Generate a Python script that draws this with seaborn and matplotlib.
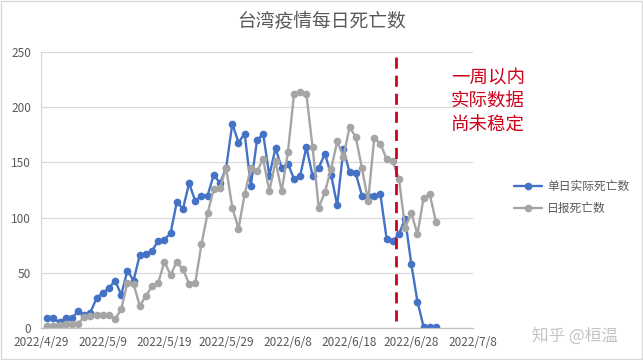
import matplotlib
matplotlib.use("Agg")
import matplotlib.pyplot as plt
from matplotlib.patches import Rectangle
from matplotlib.lines import Line2D
import seaborn as sns
import pandas as pd

# ---- data ----
start_date = "2022-04-30"
actual_deaths = [9, 9, 5, 9, 9, 15, 12, 14, 27, 32, 36, 43, 30, 52, 43, 66,
                 67, 70, 79, 80, 86, 114, 108, 131, 115, 120, 120, 139, 131, 145,
                 185, 168, 176, 129, 170, 176, 138, 163, 145, 149, 135, 138, 164, 138,
                 145, 158, 139, 111, 162, 141, 140, 120, 120, 120, 121, 81, 79, 85,
                 99, 58, 24, 1, 1, 1]
reported_deaths = [2, 2, 3, 4, 4, 4, 10, 11, 12, 12, 12, 8, 17, 41, 40, 20,
                   29, 38, 41, 60, 48, 60, 53, 40, 41, 76, 104, 126, 127, 145,
                   109, 90, 121, 145, 142, 153, 124, 151, 124, 159, 212, 214, 212, 164,
                   109, 123, 144, 169, 155, 182, 173, 145, 115, 172, 167, 153, 151, 135,
                   91, 104, 85, 118, 121, 96]
dates = pd.date_range(start_date, periods=len(actual_deaths))
tick_dates = pd.to_datetime(["2022-04-29", "2022-05-09", "2022-05-19", "2022-05-29",
                             "2022-06-08", "2022-06-18", "2022-06-28", "2022-07-08"])
tick_labels = [f"{d.year}/{d.month}/{d.day}" for d in tick_dates]
y_ticks = [0, 50, 100, 150, 200, 250]
cutoff_date = pd.Timestamp("2022-06-25 12:00")

title = "台湾疫情每日死亡数"
label_actual = "单日实际死亡数"
label_reported = "日报死亡数"
note = "一周以内\n实际数据\n尚未稳定"
watermark = "知乎 @桓温"

df = pd.DataFrame({"date": dates, label_actual: actual_deaths, label_reported: reported_deaths})
long = df.melt(id_vars="date", var_name="series", value_name="deaths")

sns.set_theme(style="white")
plt.rcParams['font.family'] = ['Noto Sans CJK SC', 'DejaVu Sans']

fig = plt.figure(figsize=(6.43, 3.6), dpi=100)
ax = fig.add_axes([41 / 643, 1 - 328 / 360, (473 - 41) / 643, (328 - 52) / 360])

palette = {label_actual: "#4472C4", label_reported: "#A5A5A5"}
sns.lineplot(data=long, x="date", y="deaths", hue="series", palette=palette,
             marker="o", markersize=5.5, markeredgewidth=0, linewidth=1.7,
             ax=ax, legend=False)

ax.set_xlim(tick_dates[0], tick_dates[-1])
ax.set_ylim(0, 250)
ax.set_xticks(tick_dates)
ax.set_xticklabels(tick_labels)
ax.set_yticks(y_ticks)
ax.set_xlabel("")
ax.set_ylabel("")
ax.tick_params(axis="both", labelsize=8.5, colors="#595959", length=0)
ax.tick_params(axis="x", pad=6)
ax.tick_params(axis="y", pad=7)
ax.grid(axis="y", color="#D9D9D9", linewidth=0.9)
ax.set_axisbelow(True)
for s in ["top", "right"]:
    ax.spines[s].set_visible(False)
ax.spines["left"].set_color("#D9D9D9")
ax.spines["left"].set_linewidth(0.9)
ax.spines["bottom"].set_color("#BFBFBF")
ax.spines["bottom"].set_linewidth(0.9)

# cutoff dashed line
ax.axvline(cutoff_date, ymin=0.025, ymax=0.99, color="#D0021B", linewidth=2,
           linestyle=(0, (4, 2.5)), zorder=5)

# title
fig.text(0.5, 1 - 22 / 360, title, ha="center", va="center", fontsize=13.5,
         color="#595959")

# note
fig.text(451 / 643, 1 - 102 / 360, note, ha="left", va="center", fontsize=13.3,
         color="#D0021B", linespacing=1.4)

# legend
handles = [Line2D([], [], color=palette[label_actual], marker="o", markersize=5.5,
                  markeredgewidth=0, linewidth=1.7),
           Line2D([], [], color=palette[label_reported], marker="o", markersize=5.5,
                  markeredgewidth=0, linewidth=1.7)]
leg = fig.legend(handles, [label_actual, label_reported], loc="upper left",
                 bbox_to_anchor=(508 / 643, 1 - 174 / 360), frameon=False,
                 fontsize=8.5, handlelength=2.4, handletextpad=0.4,
                 labelspacing=0.75, borderpad=0)
for t in leg.get_texts():
    t.set_color("#595959")

# watermark
fig.text(575 / 643, 1 - 336 / 360, watermark, ha="center", va="center",
         fontsize=12, color="#C4C4C4")

# figure border
fig.patches.append(Rectangle((0.001, 0.002), 0.997, 0.995, transform=fig.transFigure,
                             fill=False, edgecolor="#D9D9D9", linewidth=1))

fig.savefig("out.png", dpi=100)
